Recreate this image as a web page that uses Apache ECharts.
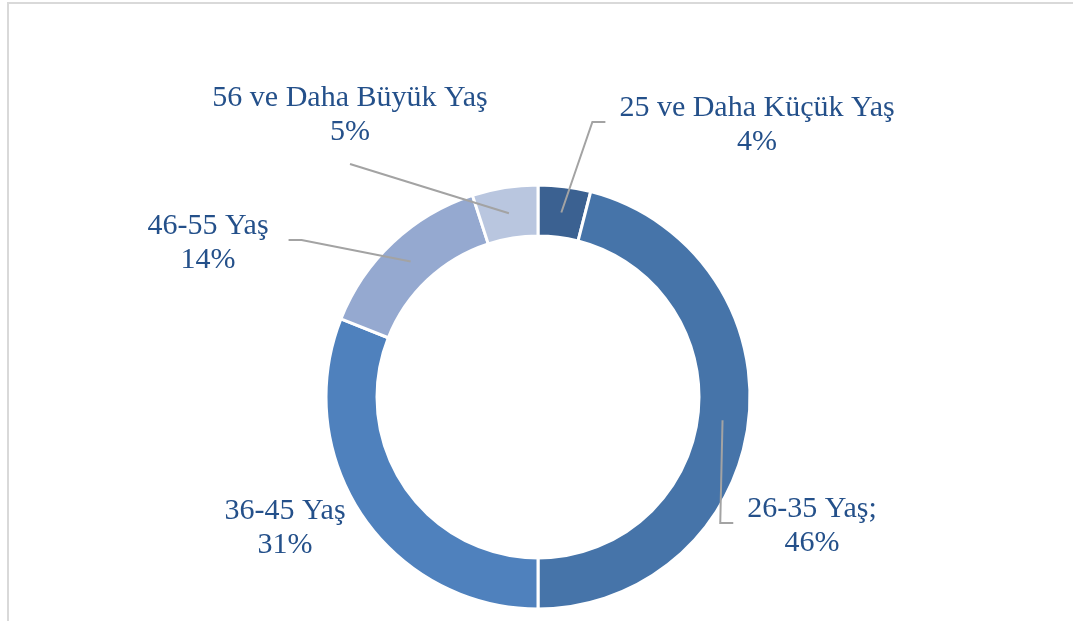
<!DOCTYPE html>
<html>
<head>
<meta charset="utf-8">
<script src="https://cdn.jsdelivr.net/npm/echarts@6/dist/echarts.min.js"></script>
<style>
    html, body { margin: 0; padding: 0; background: #fff; }
    #chart { width: 1073px; height: 621px; }
</style>
</head>
<body>
<div id="chart"></div>
<script>
    // yaş grupları
    var categories = ['25 ve Daha Küçük Yaş', '26-35 Yaş', '36-45 Yaş', '46-55 Yaş', '56 ve Daha Büyük Yaş'];
    var values = [4, 46, 31, 14, 5];
    var separators = ['', ';', '', '', ''];
    var colors = ['#3b6191', '#4674a9', '#4f81bd', '#95a9d0', '#b9c6df'];
    // etiket merkezleri (piksel) ve çizginin bağlandığı kenar
    var labelPos = [[757, 125], [812, 526], [285, 528], [208, 243], [350, 115]];
    var lineSide = ['left', 'left', null, 'right', 'bottom'];

    var center = [538, 397];
    var textColor = '#24508a';

    var ringData = [];
    var labelData = [];
    for (var i = 0; i < categories.length; i++) {
        ringData.push({ name: categories[i], value: values[i], itemStyle: { color: colors[i] } });
        labelData.push({ name: categories[i], value: values[i], labelLine: { show: lineSide[i] != null } });
    }

    var chart = echarts.init(document.getElementById('chart'));
    chart.setOption({
        backgroundColor: '#fff',
        animation: false,
        // çerçeve
        graphic: [{
            type: 'rect',
            shape: { x: 8, y: 3, width: 1200, height: 800 },
            style: { fill: 'none', stroke: '#d9d9d9', lineWidth: 2 },
            silent: true
        }],
        series: [{
            type: 'pie',
            center: center,
            radius: [161, 212],
            startAngle: 90,
            clockwise: true,
            silent: true,
            avoidLabelOverlap: false,
            label: { show: false },
            labelLine: { show: false },
            itemStyle: { borderColor: '#fff', borderWidth: 3 },
            emphasis: { disabled: true },
            data: ringData
        }, {
            // etiketler ve bağlantı çizgileri (halkanın ortasından başlar)
            type: 'pie',
            z: 3,
            center: center,
            radius: [0, 186],
            startAngle: 90,
            clockwise: true,
            silent: true,
            avoidLabelOverlap: false,
            itemStyle: { color: 'rgba(0,0,0,0)' },
            emphasis: { disabled: true },
            label: {
                show: true,
                position: 'outside',
                fontFamily: 'Liberation Serif',
                fontSize: 30,
                lineHeight: 34,
                color: textColor,
                align: 'center',
                formatter: function (p) {
                    return p.name + separators[p.dataIndex] + '\n' + Math.round(p.percent) + '%';
                }
            },
            labelLine: {
                show: true,
                length: 10,
                length2: 12,
                lineStyle: { color: '#a3a3a3', width: 2 }
            },
            labelLayout: function (params) {
                var idx = params.dataIndex;
                var pos = labelPos[idx];
                var res = { x: pos[0], y: pos[1], align: 'center', verticalAlign: 'middle' };
                var side = lineSide[idx];
                if (side && params.labelLinePoints) {
                    var start = params.labelLinePoints[0];
                    var w = params.labelRect.width;
                    var h = params.labelRect.height;
                    var yMid = pos[1] - 3;
                    if (side == 'left') {
                        var endX = pos[0] - w / 2 - 14;
                        res.labelLinePoints = [start, [endX - 13, yMid], [endX, yMid]];
                    } else if (side == 'right') {
                        var endX2 = pos[0] + w / 2 + 20;
                        res.labelLinePoints = [start, [endX2 + 13, yMid], [endX2, yMid]];
                    } else {
                        var endY = pos[1] + h / 2 + 15;
                        res.labelLinePoints = [start, [pos[0], endY], [pos[0], endY]];
                    }
                }
                return res;
            },
            data: labelData
        }]
    });
</script>
</body>
</html>
